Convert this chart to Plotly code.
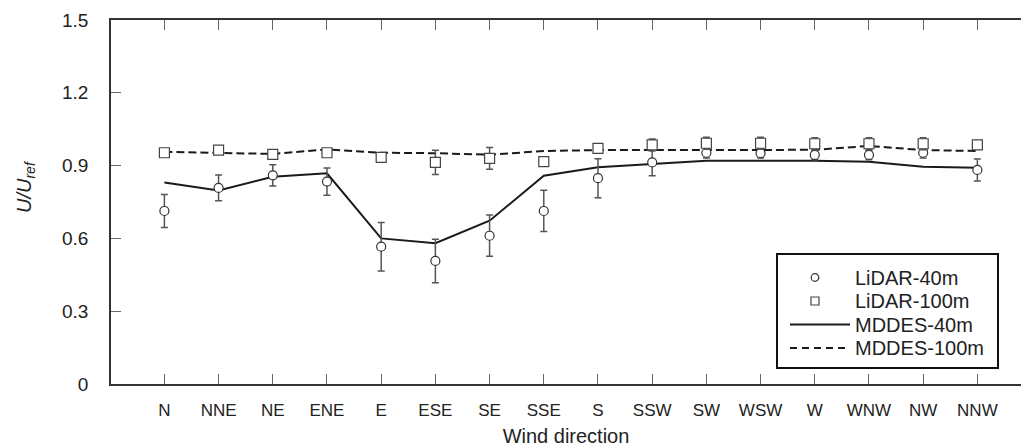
import plotly.graph_objects as go

directions = ["N", "NNE", "NE", "ENE", "E", "ESE", "SE", "SSE",
              "S", "SSW", "SW", "WSW", "W", "WNW", "NW", "NNW"]

lidar_40 = [0.713, 0.808, 0.860, 0.834, 0.566, 0.507, 0.611, 0.713,
            0.848, 0.913, 0.953, 0.951, 0.944, 0.944, 0.953, 0.882]
lidar_40_err = [0.068, 0.053, 0.044, 0.056, 0.100, 0.090, 0.085, 0.085,
                0.080, 0.055, 0.022, 0.020, 0.020, 0.020, 0.022, 0.045]

lidar_100 = [0.953, 0.964, 0.946, 0.953, 0.934, 0.913, 0.930, 0.916,
             0.971, 0.985, 0.992, 0.992, 0.990, 0.990, 0.990, 0.985]
lidar_100_err = [0.015, 0.015, 0.015, 0.015, 0.015, 0.050, 0.045, 0.015,
                 0.015, 0.025, 0.025, 0.025, 0.025, 0.025, 0.025, 0.015]

mddes_40 = [0.830, 0.797, 0.854, 0.868, 0.600, 0.580, 0.673, 0.858,
            0.893, 0.905, 0.920, 0.920, 0.920, 0.916, 0.895, 0.891]
mddes_100 = [0.957, 0.951, 0.948, 0.967, 0.953, 0.951, 0.945, 0.960,
             0.964, 0.964, 0.964, 0.964, 0.965, 0.981, 0.964, 0.960]

y_ticks = [0, 0.3, 0.6, 0.9, 1.2, 1.5]
y_tick_labels = ["0", "0.3", "0.6", "0.9", "1.2", "1.5"]

series_names = ["LiDAR-40m", "LiDAR-100m", "MDDES-40m", "MDDES-100m"]

FONT = "Liberation Sans, Arial, sans-serif"
TXT = "#222222"
W, H = 1021, 448
ML, MR, MT, MB = 111, 0, 20, 64
PW, PH = W - ML - MR, H - MT - MB


def px(xpix):
    return (xpix - ML) / PW


def py(ypix):
    return (H - MB - ypix) / PH


fig = go.Figure()

fig.add_trace(go.Scatter(
    x=directions, y=mddes_40, mode="lines", name=series_names[2],
    line=dict(color="#1a1a1a", width=2)))
fig.add_trace(go.Scatter(
    x=directions, y=mddes_100, mode="lines", name=series_names[3],
    line=dict(color="#1a1a1a", width=2, dash="8px,4px")))
fig.add_trace(go.Scatter(
    x=directions, y=lidar_40, mode="markers", name=series_names[0],
    marker=dict(symbol="circle", size=9, color="white",
                line=dict(color="#333333", width=1.2)),
    error_y=dict(type="data", array=lidar_40_err, visible=True,
                 color="#555555", thickness=1.5, width=3.5)))
fig.add_trace(go.Scatter(
    x=directions, y=lidar_100, mode="markers", name=series_names[1],
    marker=dict(symbol="square", size=10, color="white",
                line=dict(color="#444444", width=1.2)),
    error_y=dict(type="data", array=lidar_100_err, visible=True,
                 color="#555555", thickness=1.5, width=3.5)))

fig.update_layout(
    width=W, height=H,
    margin=dict(l=ML, r=MR, t=MT, b=MB),
    paper_bgcolor="white", plot_bgcolor="white",
    font=dict(family=FONT, color=TXT),
    showlegend=False,
)

fig.update_xaxes(
    type="category", categoryorder="array", categoryarray=directions,
    range=[-0.985, 15.805],
    showline=True, linecolor="#333333", linewidth=1.5, mirror="ticks",
    ticks="inside", ticklen=10, tickwidth=1, tickcolor="#666666",
    tickfont=dict(size=17, family=FONT, color=TXT),
    ticklabelstandoff=10,
    showgrid=False, zeroline=False,
    title=dict(text="Wind direction", font=dict(size=20, family=FONT, color=TXT),
               standoff=10),
)
fig.update_yaxes(
    range=[0, 1.5], tickvals=y_ticks, ticktext=y_tick_labels,
    showline=True, linecolor="#333333", linewidth=1.5, mirror=False,
    ticks="inside", ticklen=10, tickwidth=1, tickcolor="#666666",
    tickfont=dict(size=19, family=FONT, color=TXT),
    ticklabelstandoff=17,
    showgrid=False, zeroline=False,
)

fig.add_annotation(
    text="<i>U/U<sub>ref</sub></i>", textangle=-90,
    xref="paper", yref="paper", x=px(25), y=py(187),
    xanchor="center", yanchor="middle", showarrow=False,
    font=dict(size=20, family=FONT, color=TXT),
)

# ---- legend box (drawn manually to match the reference layout) ----
shapes = []
shapes.append(dict(type="rect", xref="paper", yref="paper",
                   x0=px(777), x1=px(998), y0=py(368), y1=py(254),
                   line=dict(color="#111111", width=2), fillcolor="white",
                   layer="above"))
row_y = [277.5, 301, 324.5, 348]
sym_x = 815
# circle
shapes.append(dict(type="circle", xref="paper", yref="paper",
                   x0=px(sym_x - 3.8), x1=px(sym_x + 3.8),
                   y0=py(row_y[0] + 3.8), y1=py(row_y[0] - 3.8),
                   line=dict(color="#333333", width=1.2), fillcolor="white",
                   layer="above"))
# square
shapes.append(dict(type="rect", xref="paper", yref="paper",
                   x0=px(sym_x - 4), x1=px(sym_x + 4),
                   y0=py(row_y[1] + 4), y1=py(row_y[1] - 4),
                   line=dict(color="#444444", width=1.2), fillcolor="white",
                   layer="above"))
# solid line
shapes.append(dict(type="line", xref="paper", yref="paper",
                   x0=px(790), x1=px(850), y0=py(row_y[2]), y1=py(row_y[2]),
                   line=dict(color="#1a1a1a", width=2), layer="above"))
# dashed line
shapes.append(dict(type="line", xref="paper", yref="paper",
                   x0=px(790), x1=px(850), y0=py(row_y[3]), y1=py(row_y[3]),
                   line=dict(color="#1a1a1a", width=2, dash="7px,5px"),
                   layer="above"))
fig.update_layout(shapes=shapes)

for name, ry in zip(series_names, row_y):
    fig.add_annotation(
        text=name, xref="paper", yref="paper", x=px(853), y=py(ry),
        xanchor="left", yanchor="middle", showarrow=False,
        font=dict(size=20, family=FONT, color=TXT),
    )

fig.write_html("out.html")
